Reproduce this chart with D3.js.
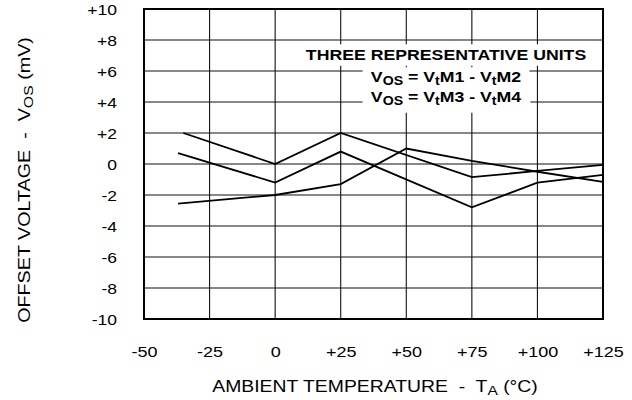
<!DOCTYPE html>
<html>
<head>
<meta charset="utf-8">
<script src="https://cdn.jsdelivr.net/npm/d3@7"></script>
<style>
  html, body { margin: 0; padding: 0; background: #fff; }
  svg { display: block; }
  text { font-family: "Liberation Sans", Arial, Helvetica, sans-serif; fill: #000; white-space: pre; }
</style>
</head>
<body>
<svg id="chart" width="632" height="400"></svg>
<script>
// ---- data ----
const tempTicks = [-50, -25, 0, 25, 50, 75, 100, 125];
const voltTicks = [-10, -8, -6, -4, -2, 0, 2, 4, 6, 8, 10];
const gridTemps = [-25, 0, 25, 50, 75, 100];
const gridVolts = [-8, -6, -4, -2, 0, 2, 4, 6, 8];

const unit1Temps = [-35, 0, 25, 75, 100, 125];
const unit1Vos   = [2.0, 0.0, 2.0, -0.85, -0.45, -0.05];
const unit2Temps = [-37, 0, 25, 75, 100, 125];
const unit2Vos   = [0.7, -1.2, 0.8, -2.8, -1.2, -0.7];
const unit3Temps = [-37, 0, 25, 50, 75, 100, 125];
const unit3Vos   = [-2.55, -2.0, -1.3, 1.0, 0.2, -0.5, -1.15];

// ---- layout ----
const L = 144, R = 603, T = 9, B = 319;

const svg = d3.select("#chart");
const x = d3.scaleLinear().domain([-50, 125]).range([L, R]);
const y = d3.scaleLinear().domain([-10, 10]).range([B, T]);
const fmt = d => d > 0 ? "+" + d : String(d);

// grid
const grid = svg.append("g").attr("stroke", "#111").attr("stroke-width", 1.1);
grid.selectAll("line.v").data(gridTemps).join("line").attr("class", "v")
  .attr("x1", d => x(d)).attr("x2", d => x(d)).attr("y1", T).attr("y2", B);
grid.selectAll("line.h").data(gridVolts).join("line").attr("class", "h")
  .attr("x1", L).attr("x2", R).attr("y1", d => y(d)).attr("y2", d => y(d));

// data lines
const series = [
  unit1Temps.map((t, i) => [t, unit1Vos[i]]),
  unit2Temps.map((t, i) => [t, unit2Vos[i]]),
  unit3Temps.map((t, i) => [t, unit3Vos[i]])
];
const line = d3.line().x(d => x(d[0])).y(d => y(d[1]));
svg.append("g").selectAll("path").data(series).join("path")
  .attr("d", line).attr("fill", "none").attr("stroke", "#000").attr("stroke-width", 1.8);

// text helper: parts = [[text, isSub], ...]
function rich(t, parts, shift) {
  let down = false;
  parts.forEach(([s, isSub]) => {
    const sp = t.append("tspan").text(s);
    if (isSub) sp.attr("font-size", "0.8em");
    if (isSub && !down) { sp.attr("dy", shift); down = true; }
    else if (!isSub && down) { sp.attr("dy", -shift); down = false; }
  });
}

// annotation with white backgrounds
function annot(cx, by, sx, pad, parts) {
  const g = svg.append("g").attr("transform", `translate(${cx},${by}) scale(${sx},1)`);
  const t = g.append("text").attr("text-anchor", "middle").attr("font-weight", "bold")
    .attr("font-size", 15);
  rich(t, parts, 3);
  const bb = t.node().getBBox();
  g.insert("rect", "text").attr("x", bb.x - pad[0]).attr("y", bb.y - pad[1])
    .attr("width", bb.width + 2 * pad[0]).attr("height", bb.height + pad[1] + pad[2])
    .attr("fill", "#fff");
}
annot(446, 60, 1.18, [2, 2, 3], [["THREE REPRESENTATIVE UNITS", false]]);
annot(446, 82, 1.18, [7, 1, 2],
  [["V", false], ["OS", true], [" = V", false], ["t", true], ["M1 - V", false], ["t", true], ["M2", false]]);
annot(446, 102, 1.18, [7, 1, 5],
  [["V", false], ["OS", true], [" = V", false], ["t", true], ["M3 - V", false], ["t", true], ["M4", false]]);

// frame
svg.append("rect").attr("x", L).attr("y", T).attr("width", R - L).attr("height", B - T)
  .attr("fill", "none").attr("stroke", "#000").attr("stroke-width", 2);

// axes (labels only)
const xAx = svg.append("g").attr("transform", `translate(0,${B})`)
  .call(d3.axisBottom(x).tickValues(tempTicks).tickSize(0).tickFormat(fmt));
xAx.select(".domain").remove();
xAx.attr("font-family", null).attr("font-size", null);
xAx.selectAll("text").attr("y", 38.5).attr("dy", null).attr("font-size", 15)
  .attr("transform", "scale(1.2,1)").attr("x", 0);

const yAx = svg.append("g").attr("transform", `translate(${L},0)`)
  .call(d3.axisLeft(y).tickValues(voltTicks).tickSize(0).tickFormat(fmt));
yAx.select(".domain").remove();
yAx.attr("font-family", null).attr("font-size", null);
yAx.selectAll("text").attr("x", 0).attr("dy", "0.36em").attr("font-size", 14)
  .attr("transform", "translate(-27,0) scale(1.25,1)");

// axis titles
const xt = svg.append("text").attr("text-anchor", "middle").attr("font-size", 17)
  .attr("transform", "translate(375,391.5) scale(1.14,1)");
rich(xt, [["AMBIENT TEMPERATURE  -  T", false], ["A", true], [" (°C)", false]], 3);

const yt = svg.append("text").attr("text-anchor", "middle").attr("font-size", 17)
  .attr("transform", "translate(30,180) rotate(-90) scale(1.16,1)");
rich(yt, [["OFFSET VOLTAGE  -  V", false], ["OS", true], [" (mV)", false]], 3);
</script>
</body>
</html>
